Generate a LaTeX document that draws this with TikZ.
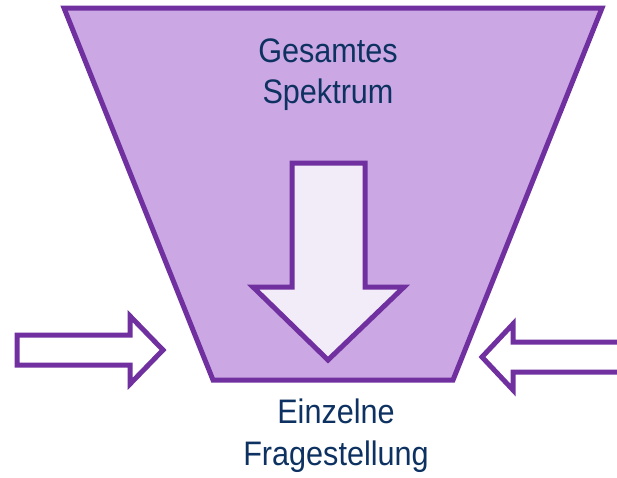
\documentclass[tikz,border=0pt]{standalone}
\usepackage{fontspec}
\setmainfont{Liberation Sans}[FakeStretch=0.9]
\definecolor{strk}{HTML}{7030A0}
\definecolor{trapfill}{HTML}{CBA8E3}
\definecolor{arrfill}{HTML}{F2ECF8}
\definecolor{txt}{HTML}{0D3160}
\tikzset{
  outline/.style={draw=strk, line width=5pt, line join=miter},
  lbl/.style={font=\fontsize{34}{41}\selectfont, text=txt, anchor=base, inner sep=0pt}
}
\begin{document}
\begin{tikzpicture}[x=1pt,y=-1pt]
\useasboundingbox (0,0) rectangle (617,477);
\clip (0,0) rectangle (617,477);
% funnel
\draw[outline, fill=trapfill] (64,8) -- (602,8) -- (453,380) -- (213,380) -- cycle;
% down arrow
\draw[outline, fill=arrfill] (292,163) -- (365,163) -- (365,287) -- (404,287) -- (328,360) -- (253,287) -- (292,287) -- cycle;
% left arrow
\draw[outline, fill=white] (17,335) -- (130,335) -- (130,316) -- (163,350) -- (130,384) -- (130,365) -- (17,365) -- cycle;
% right arrow
\draw[outline, fill=white] (482,357) -- (513,324) -- (513,342) -- (630,342) -- (630,372) -- (513,372) -- (513,390) -- cycle;
% labels
\node[lbl] (t1) at (328,62) {Gesamtes};
\node[lbl] (t2) at (328,103) {Spektrum};
\node[lbl] (b1) at (336,423) {Einzelne};
\node[lbl] (b2) at (336,465) {Fragestellung};
\end{tikzpicture}
\end{document}
